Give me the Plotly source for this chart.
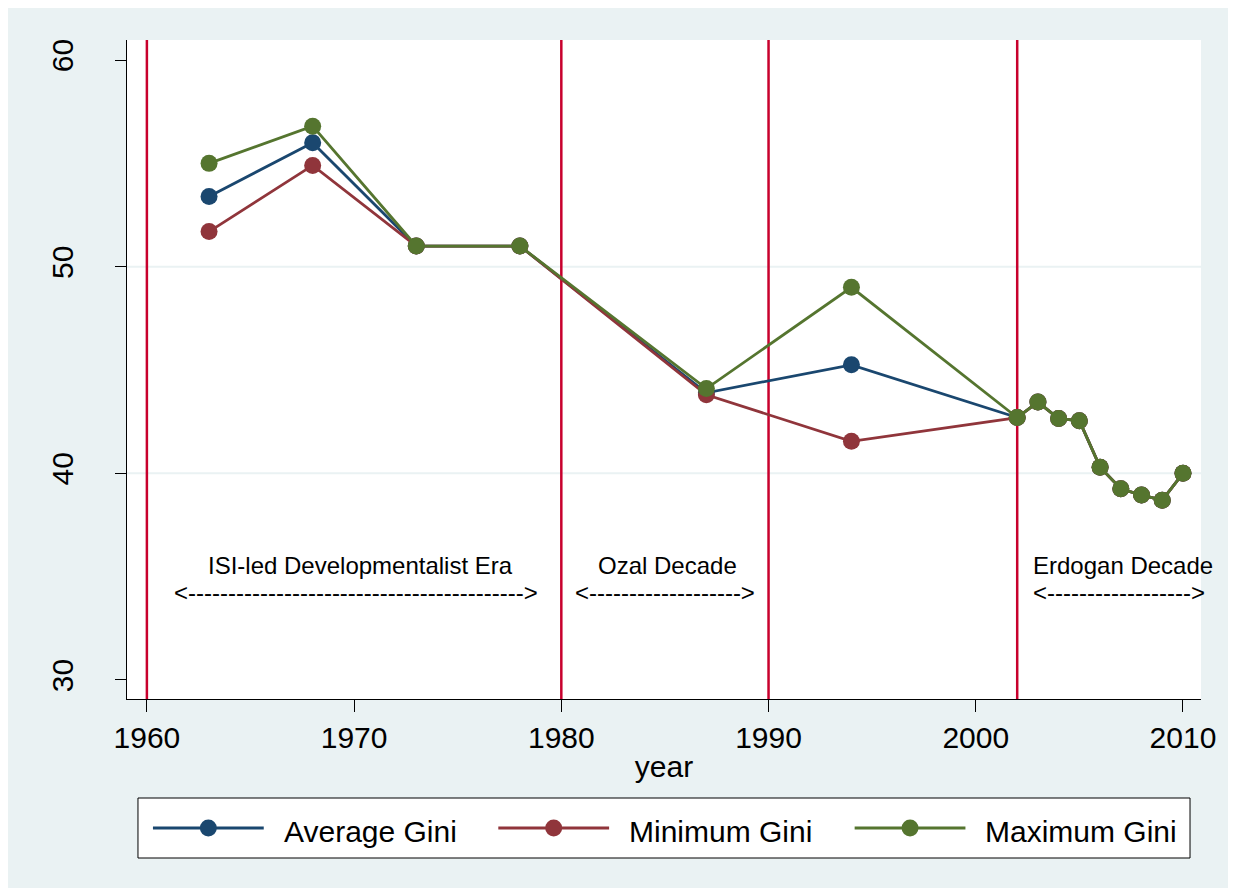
import plotly.graph_objects as go

years = [1963, 1968, 1973, 1978, 1987, 1994, 2002, 2003, 2004, 2005, 2006, 2007, 2008, 2009, 2010]
avg_gini = [53.4, 56.0, 51.0, 51.0, 43.9, 45.25, 42.7, 43.45, 42.65, 42.55, 40.3, 39.25, 38.95, 38.7, 40.0]
min_gini = [51.7, 54.9, 51.0, 51.0, 43.8, 41.55, 42.7, 43.45, 42.65, 42.55, 40.3, 39.25, 38.95, 38.7, 40.0]
max_gini = [55.0, 56.8, 51.0, 51.0, 44.1, 49.0, 42.7, 43.45, 42.65, 42.55, 40.3, 39.25, 38.95, 38.7, 40.0]

series_names = ["Average Gini", "Minimum Gini", "Maximum Gini"]
series_colors = ["#1a476f", "#90353b", "#55752f"]

era_years = [1960, 1980, 1990, 2002]
grid_values = [40, 50]

era_labels = ["ISI-led Developmentalist Era", "Ozal Decade", "Erdogan Decade"]
era_label_x = [1970.3, 1985.1, 2007.1]
era_arrows = ["<" + "-" * 42 + ">", "<" + "-" * 19 + ">", "<" + "-" * 18 + ">"]
era_arrow_x = [1970.1, 1985.0, 2006.9]
label_y = 35.53
arrow_y = 34.23

x_ticks = [1960, 1970, 1980, 1990, 2000, 2010]
y_ticks = [30, 40, 50, 60]

FONT = "Liberation Sans, Arial, sans-serif"

# plot area geometry (px) used for placing the hand-built legend
L, R, T, B = 119, 25, 32, 189
W, H = 1220, 880
PW, PH = W - L - R, H - T - B


def px_x(px):
    return (px - L) / PW


def px_y(py):
    return (H - B - py) / PH


fig = go.Figure()

for name, vals, col in zip(series_names, [avg_gini, min_gini, max_gini], series_colors):
    fig.add_trace(go.Scatter(
        x=years, y=vals, name=name, mode="lines+markers",
        line=dict(color=col, width=2.8),
        marker=dict(color=col, size=17),
        showlegend=False,
    ))

for gv in grid_values:
    fig.add_hline(y=gv, line=dict(color="#eaf2f3", width=2), layer="below")

for ey in era_years:
    fig.add_vline(x=ey, line=dict(color="#c8002d", width=2.5), layer="below")

for lab, lx in zip(era_labels, era_label_x):
    fig.add_annotation(x=lx, y=label_y, text=lab, showarrow=False,
                       xanchor="center", yanchor="middle",
                       font=dict(family=FONT, size=24, color="black"))
for arr, ax in zip(era_arrows, era_arrow_x):
    fig.add_annotation(x=ax, y=arrow_y, text=arr, showarrow=False,
                       xanchor="center", yanchor="middle",
                       font=dict(family=FONT, size=24, color="black"))

# legend box (Stata style: long line symbol with marker in the middle)
lx_off = 8  # page offset of the figure
fig.add_shape(type="rect", xref="paper", yref="paper",
              x0=px_x(138 - lx_off), x1=px_x(1192 - lx_off),
              y0=px_y(858 - lx_off), y1=px_y(798 - lx_off),
              line=dict(color="black", width=1), fillcolor="white", layer="above")
sym_x0 = [153, 499, 856]
sym_x1 = [264, 610, 967]
txt_x = [282, 628, 985]
leg_y = 828
r = 8.5
for name, col, a, b, tx in zip(series_names, series_colors, sym_x0, sym_x1, txt_x):
    a -= lx_off
    b -= lx_off
    tx -= lx_off
    yy = leg_y - lx_off
    fig.add_shape(type="line", xref="paper", yref="paper",
                  x0=px_x(a), x1=px_x(b), y0=px_y(yy), y1=px_y(yy),
                  line=dict(color=col, width=2.8), layer="above")
    cx = (a + b) / 2
    fig.add_shape(type="circle", xref="paper", yref="paper",
                  x0=px_x(cx - r), x1=px_x(cx + r), y0=px_y(yy + r), y1=px_y(yy - r),
                  line=dict(color=col, width=0), fillcolor=col, layer="above")
    fig.add_annotation(xref="paper", yref="paper", x=px_x(tx), y=px_y(yy + 3),
                       text=name, showarrow=False, xanchor="left", yanchor="middle",
                       font=dict(family=FONT, size=30, color="black"))

fig.update_layout(
    width=W, height=H,
    margin=dict(l=L, r=R, t=T, b=B),
    paper_bgcolor="#eaf2f3",
    plot_bgcolor="white",
    font=dict(family=FONT, size=30, color="black"),
    showlegend=False,
    xaxis=dict(
        range=[1959.04, 2010.87], tickvals=x_ticks, showgrid=False, zeroline=False,
        showline=True, linecolor="black", linewidth=1,
        ticks="outside", ticklen=12, tickcolor="black",
        tickfont=dict(size=30),
        title=dict(text="year", font=dict(size=30), standoff=2),
    ),
    yaxis=dict(
        range=[29.08, 60.97], tickvals=y_ticks, showgrid=False, zeroline=False,
        showline=True, linecolor="black", linewidth=1,
        ticks="outside", ticklen=11, tickcolor="black",
        tickangle=-90, tickfont=dict(size=30), ticklabelstandoff=30,
    ),
)

fig.write_html("out.html")
